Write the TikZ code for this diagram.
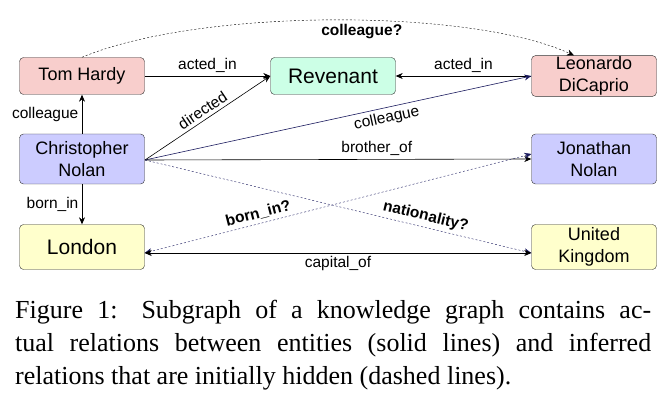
\documentclass[tikz,border=0pt]{standalone}
\usepackage{fontspec}
\setmainfont{Liberation Serif}
\newfontfamily\gsans{Liberation Sans}
\usetikzlibrary{arrows.meta}
\definecolor{cred}{HTML}{F8CECC}
\definecolor{cgreen}{HTML}{CCFFE6}
\definecolor{cblue}{HTML}{CCCCFF}
\definecolor{cyel}{HTML}{FFFFCC}
\definecolor{navy}{HTML}{1A1A5E}
\begin{document}
\begin{tikzpicture}[x=1pt,y=-1pt,
  ent/.style={draw=black!80,rounded corners=4pt,minimum width=125pt,minimum height=37pt,align=center,font=\gsans\fontsize{18}{22}\selectfont,inner sep=1pt},
  big/.style={ent,minimum height=45pt,font=\gsans\fontsize{21}{23}\selectfont},
  rel/.style={-{Stealth[length=7pt,width=6pt]},semithick},
  hid/.style={rel,thin,dashed,dash pattern=on 2pt off 2pt},
  lab/.style={font=\gsans\fontsize{15.5}{17}\selectfont},
  blab/.style={font=\gsans\bfseries\fontsize{15.5}{17}\selectfont}]
\useasboundingbox (0,0) rectangle (662,409);
\node[ent,fill=cred] (tom) at (82,76) {Tom Hardy};
\node[ent,fill=cgreen,font=\gsans\fontsize{21}{23}\selectfont] (rev) at (333,76) {Revenant};
\node[ent,fill=cred] (leo) at (594,76) {Leonardo\\DiCaprio};
\node[ent,fill=cblue,minimum height=50pt] (nolan) at (82,159) {Christopher\\Nolan};
\node[ent,fill=cblue,minimum height=50pt] (jon) at (594,159) {Jonathan\\Nolan};
\node[big,fill=cyel] (lon) at (82,247) {London};
\node[ent,fill=cyel,minimum height=45pt] (uk) at (594,247) {United\\Kingdom};
\coordinate (nr) at (145,160);
\draw[rel] (tom) -- node[lab,above] {acted\_in} (rev);
\draw[rel] (leo) -- node[lab,above] {acted\_in} (rev);
\draw[rel] (nolan) -- node[lab,left] {colleague} (tom);
\draw[rel] (nolan) -- node[lab,left] {born\_in} (lon);
\draw[rel] (nr) -- node[lab,sloped,above,pos=0.5] {directed} (rev.west);
\draw[rel,navy] (nr) -- node[lab,sloped,below,pos=0.62,black] {colleague} (leo.west);
\draw[rel] (nr) -- node[lab,above,pos=0.6] {brother\_of} (jon.west);
\draw[hid,navy] (nr) -- node[blab,sloped,above,pos=0.72,black] {nationality?} ([yshift=-6pt]uk.west);
\draw[hid,navy,{Stealth[length=7pt,width=6pt]}-{Stealth[length=7pt,width=6pt]}] ([yshift=-6pt]lon.east) -- node[blab,sloped,above,pos=0.3,black] {born\_in?} ([yshift=5pt]jon.west);
\draw[rel,{Stealth[length=7pt,width=6pt]}-{Stealth[length=7pt,width=6pt]}] ([yshift=-6pt]lon.east) -- node[lab,below] {capital\_of} ([yshift=-6pt]uk.west);
\draw[hid] (tom.north) .. controls (200,8) and (470,8) .. node[blab,below,pos=0.55] {colleague?} ([xshift=-20pt]leo.north);
\node[anchor=north west,inner sep=0pt,font=\fontsize{26}{33}\selectfont,align=left] (cap) at (15,300) {%
\makebox[636pt][s]{Figure 1: Subgraph of a knowledge graph contains ac-}\\
\makebox[636pt][s]{tual relations between entities (solid lines) and inferred}\\
relations that are initially hidden (dashed lines).};
\end{tikzpicture}
\end{document}
